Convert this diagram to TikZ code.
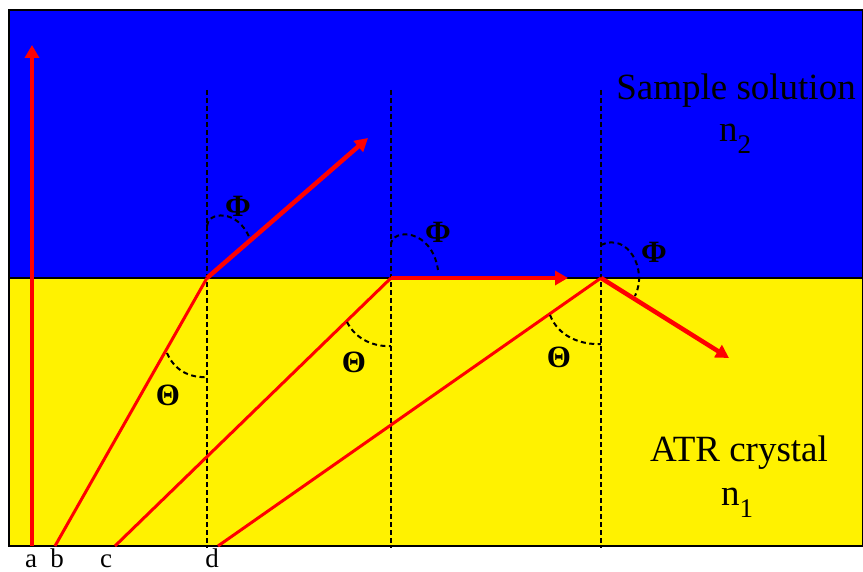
\documentclass[tikz,border=0pt]{standalone}
\usepackage{fontspec}
\setmainfont{Liberation Serif}
\usetikzlibrary{arrows.meta}

\begin{document}
\begin{tikzpicture}[
        x=1pt, y=-1pt,
        ray/.style={draw=red, line width=3pt},
        beam/.style={draw=red, line width=4.5pt, -{Triangle[length=13pt,width=14pt]}},
        normal/.style={draw=black, line width=1.8pt, dash pattern=on 5pt off 3pt},
        angarc/.style={draw=black, line width=2pt, dash pattern=on 5pt off 3.5pt},
        anglbl/.style={font=\fontsize{31}{31}\selectfont\bfseries, inner sep=0pt},
        medium/.style={font=\fontsize{37}{37}\selectfont, inner sep=0pt, anchor=base},
        tick/.style={font=\fontsize{27}{27}\selectfont, inner sep=0pt, anchor=base}
    ]
        \useasboundingbox (0,0) rectangle (863,572);
        % Media
        \fill[blue] (9,10) rectangle (863,278);
        \fill[yellow] (9,278) rectangle (863,546);
        \draw[line width=1.5pt] (9,278) -- (863,278);
        \draw[line width=1.5pt] (9,10) rectangle (863,546);

        % Points
        \coordinate (srcA) at (32,546);
        \coordinate (srcB) at (55,546);
        \coordinate (srcC) at (115,546);
        \coordinate (srcD) at (218,546);
        \coordinate (hitB) at (207,278);
        \coordinate (hitC) at (391,278);
        \coordinate (hitD) at (601,278);
        \coordinate (outA) at (32,45);
        \coordinate (outB) at (368,138);
        \coordinate (outC) at (568,278);
        \coordinate (outD) at (729,358);

        % Normals
        \foreach \p in {hitB,hitC,hitD}
            \draw[normal] (\p |- 0,90) -- (\p |- 0,548);

        % Rays
        \draw[ray] (srcB) -- (hitB);
        \draw[ray] (srcC) -- (hitC);
        \draw[ray] (srcD) -- (hitD);
        \draw[beam] (srcA) -- (outA);
        \draw[beam] (hitB) -- (outB);
        \draw[beam] (hitC) -- (outC);
        \draw[beam] (hitD) -- (outD);

        % Angles
        \draw[angarc] (207,226) .. controls (207,212) and (238,208) .. (250,239);
        \draw[angarc] (167,353) .. controls (175,372) and (192,378) .. (207,377);
        \draw[angarc] (391,245) .. controls (391,228) and (432,228) .. (438,270);
        \draw[angarc] (347,322) .. controls (356,340) and (375,347) .. (391,346);
        \draw[angarc] (601,245) .. controls (628,232) and (648,270) .. (635,296);
        \draw[angarc] (550,315) .. controls (558,336) and (580,345) .. (601,344);
        \node[anglbl] (phiB) at (238,206) {Φ};
        \node[anglbl] (phiC) at (438,232) {Φ};
        \node[anglbl] (phiD) at (654,252) {Φ};
        \node[anglbl] (thB) at (168,395) {Θ};
        \node[anglbl] (thC) at (354,362) {Θ};
        \node[anglbl] (thD) at (559,357) {Θ};

        % Labels
        \node[medium] (sample) at (736,100) {Sample solution};
        \node[medium] (ntwo) at (735,142) {n\raisebox{-12pt}{\fontsize{27}{27}\selectfont 2}};
        \node[medium] (crystal) at (739,461) {ATR crystal};
        \node[medium] (none) at (737,505) {n\raisebox{-12pt}{\fontsize{27}{27}\selectfont 1}};
        \node[tick] (la) at (31,567) {a};
        \node[tick] (lb) at (57,567) {b};
        \node[tick] (lc) at (106,567) {c};
        \node[tick] (ld) at (212,567) {d};
    \end{tikzpicture}
\end{document}
